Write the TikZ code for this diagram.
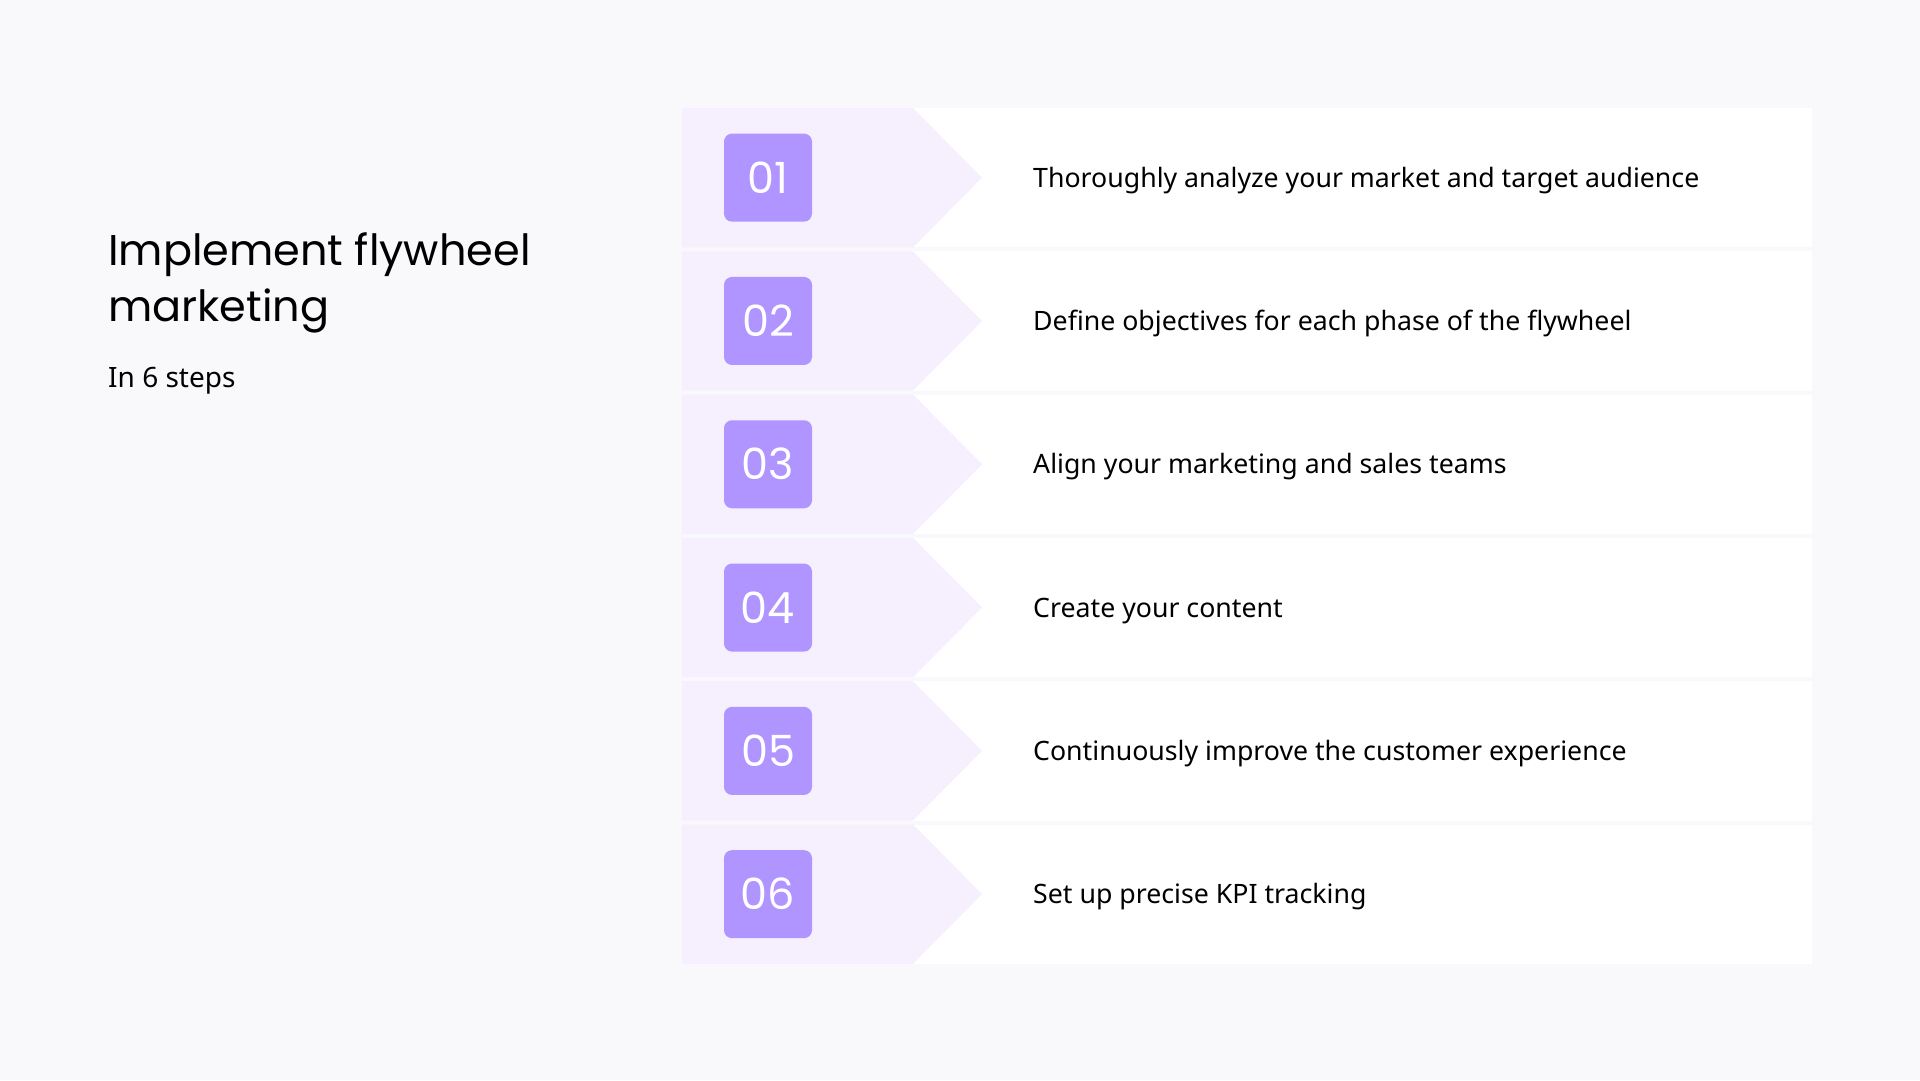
\documentclass[tikz,border=0pt]{standalone}
\usepackage{fontspec}
\setmainfont{Noto Sans}
\newfontfamily\titlefont{Poppins}
\usetikzlibrary{positioning}

\definecolor{sfondo}{HTML}{F9F9FB}
\definecolor{lavanda}{HTML}{F5EFFE}
\definecolor{viola}{HTML}{B094FF}

\tikzset{
  numbox/.style={fill=viola, rounded corners=8pt, minimum width=88pt, minimum height=88pt, inner sep=0pt,
    text=white, font=\titlefont\fontsize{43}{43}\selectfont},
  steptext/.style={anchor=base west, inner sep=0pt, font=\fontsize{26.7}{30}\selectfont},
}

\begin{document}
\begin{tikzpicture}[x=1pt,y=-1pt]
        % Sfondo
        \fill[sfondo] (0,0) rectangle (1920,1080);
        \useasboundingbox (0,0) rectangle (1920,1080);

        % Titolo
        \node[anchor=base west, inner sep=0pt, align=left, font=\titlefont\fontsize{43}{56.7}\selectfont]
          (titolo) at (108,321.7) {Implement flywheel\\marketing};
        \node[anchor=base west, inner sep=0pt, font=\fontsize{28}{30}\selectfont]
          (sottotitolo) at (108,387) {In 6 steps};

        % Righe dei passi
        \foreach \n/\testo [count=\i from 0] in {01/Thoroughly analyze your market and target audience,
            02/Define objectives for each phase of the flywheel,
            03/Align your marketing and sales teams,
            04/Create your content,
            05/Continuously improve the customer experience,
            06/Set up precise KPI tracking} {
          \pgfmathsetmacro{\top}{108+143.3*\i}
          \pgfmathsetmacro{\mid}{\top+69.65}
          \pgfmathsetmacro{\bot}{\top+139.3}
          \fill[white] (682,\top) rectangle (1812,\bot); % Pannello
          \fill[lavanda] (682,\top) -- (913,\top) -- (982,\mid) -- (913,\bot) -- (682,\bot) -- cycle; % Freccia
          \node[numbox] (num\n) at (768,\mid) {\n};
          \node[steptext] (testo\n) at (1033,\mid+9.5) {\testo};
        }

    \end{tikzpicture}
\end{document}
